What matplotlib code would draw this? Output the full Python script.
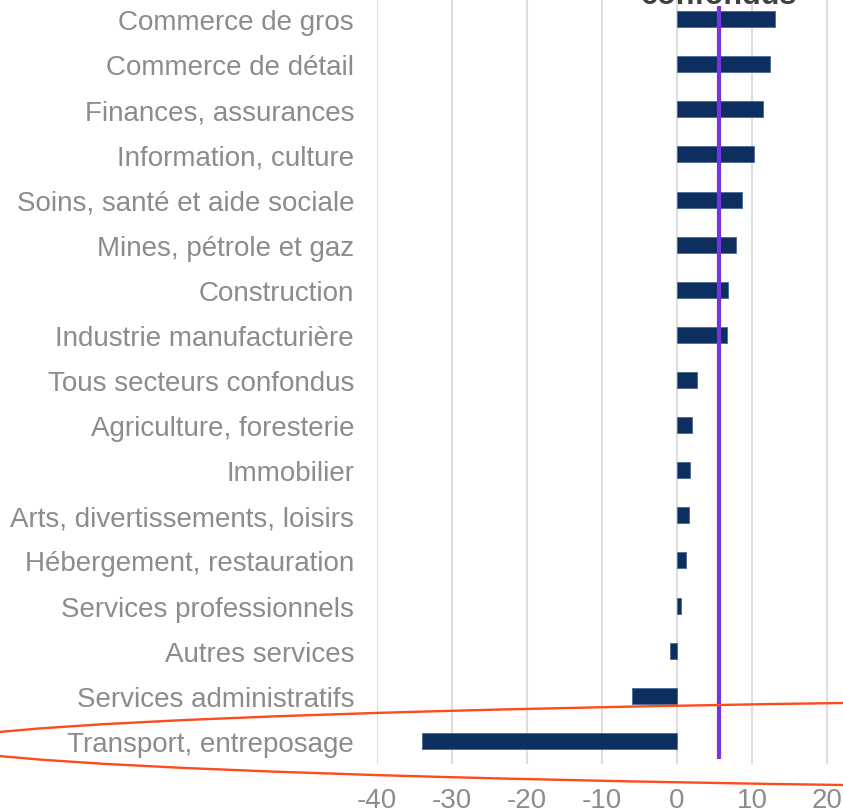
import matplotlib
matplotlib.use("Agg")
import matplotlib.pyplot as plt
from matplotlib.patches import Ellipse
from matplotlib.transforms import blended_transform_factory

categories = [
    "Commerce de gros",
    "Commerce de détail",
    "Finances, assurances",
    "Information, culture",
    "Soins, santé et aide sociale",
    "Mines, pétrole et gaz",
    "Construction",
    "Industrie manufacturière",
    "Tous secteurs confondus",
    "Agriculture, foresterie",
    "Immobilier",
    "Arts, divertissements, loisirs",
    "Hébergement, restauration",
    "Services professionnels",
    "Autres services",
    "Services administratifs",
    "Transport, entreposage",
]
values = [13.1, 12.4, 11.4, 10.3, 8.7, 7.8, 6.8, 6.7, 2.7, 2.0, 1.7, 1.6,
          1.2, 0.5, -0.9, -6.0, -34.0]
all_sectors_value = 5.6
x_ticks = [-40, -30, -20, -10, 0, 10, 20, 30]
x_tick_labels = ["-40", "-30", "-20", "-10", "0", "10", "20", "30"]
line_label = "Tous secteurs\nconfondus"

plt.rcParams['font.family'] = ['Liberation Sans', 'DejaVu Sans']

W, H = 843, 812
fig = plt.figure(figsize=(W / 100, H / 100), dpi=100)
left = 377 / W
width = 70 * 7.5 / W
bottom = 1 - 764.5 / H
height = (764.5 + 2.5) / H
ax = fig.add_axes([left, bottom, width, height])

ypos = list(range(len(categories)))
ax.barh(ypos, values, height=0.355, color="#0C2F5F", edgecolor="#4a6a96",
        linewidth=0.6, zorder=3)
ax.plot([all_sectors_value, all_sectors_value], [-0.3, 16.4],
        color="#7633E0", lw=3.0, zorder=4, solid_capstyle="butt")

ax.set_xlim(-40, 30)
ax.set_ylim(len(categories) - 0.5, -0.5)
ax.set_yticks(ypos)
ax.set_yticklabels(categories)
ax.set_xticks(x_ticks)
ax.set_xticklabels(x_tick_labels)
ax.tick_params(axis="y", length=0, pad=16.5, labelsize=20, labelcolor="#8C8C8C")
ax.tick_params(axis="x", length=0, pad=17, labelsize=20, labelcolor="#8C8C8C")
ax.grid(axis="x", color="#DEDEDE", lw=1.5, zorder=0)
ax.set_axisbelow(True)
for s in ax.spines.values():
    s.set_visible(False)

trans = blended_transform_factory(ax.transData, fig.transFigure)
ax.text(all_sectors_value, 1 - 4 / H, line_label, transform=trans,
        ha="center", va="baseline", fontsize=22, fontweight="bold",
        color="#404040", linespacing=1.0, clip_on=False)

ell = Ellipse((1642 / W, 1 - 745 / H), 3400 / W, 93 / H,
              transform=fig.transFigure, fill=False, edgecolor="#FF4A1C",
              lw=1.7, clip_on=False)
fig.add_artist(ell)

fig.savefig("out.png", dpi=100)
